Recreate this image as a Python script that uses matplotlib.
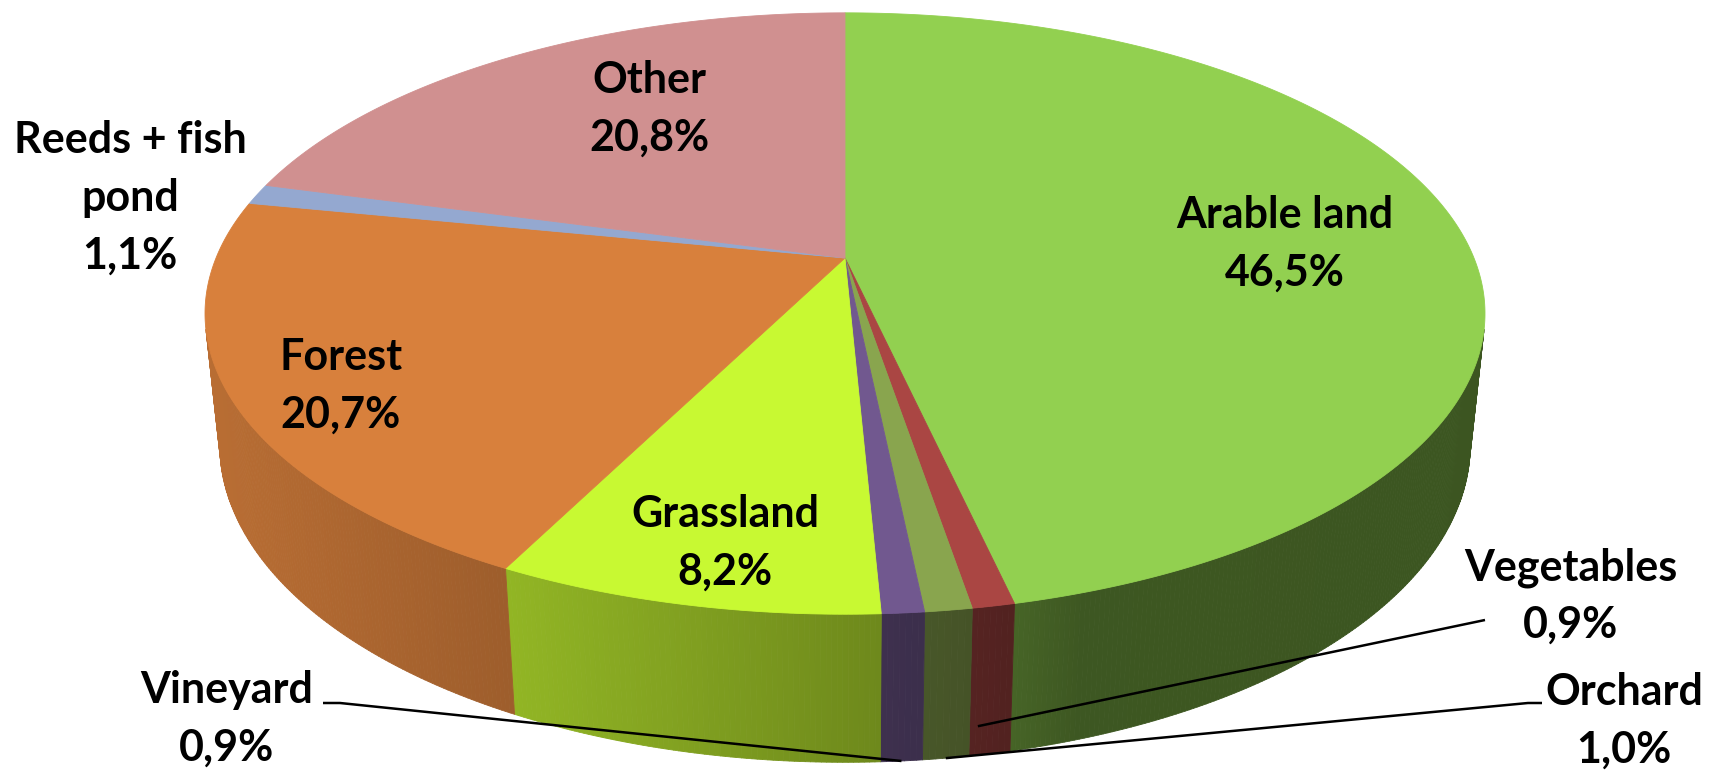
import numpy as np
import matplotlib
matplotlib.use("Agg")
import matplotlib.pyplot as plt
from matplotlib.patches import Polygon
from matplotlib.collections import PolyCollection

# data
labels = ["Arable land", "Vegetables", "Orchard", "Vineyard", "Grassland",
          "Forest", "Reeds + fish\npond", "Other"]
values = [46.5, 0.9, 1.0, 0.9, 8.2, 20.7, 1.1, 20.8]
colors = ["#92D050", "#AA4643", "#89A54E", "#71588F", "#C8F932",
          "#D8803C", "#94A8D0", "#D09090"]

# label placement (center x, first baseline y) in pixels
label_pos = [(1285, 228), (1571, 580), (1624, 705), (227, 703),
             (725, 527), (341, 370), (130, 153), (649, 93)]
# leader lines: slice index -> (start points, fraction along slice, depth fraction)
leaders = {1: ([(1485, 620)], 0.8, 0.8),
           2: ([(1542, 703), (1528, 703)], 0.5, 1.0),
           3: ([(323, 703), (340, 703)], 0.5, 1.0)}

# 3d perspective setup
CX, CY = 845, 258
F = 3021
PHI = np.radians(27.5)
S, C = np.sin(PHI), np.cos(PHI)
D = 4.803
H = 0.237


def proj_xyz(X, Y, z):
    yc = Y * S + z * C
    zc = D + Y * C - z * S
    return CX + F * X / zc, CY - F * yc / zc


def proj(theta, z):
    t = np.radians(theta)
    return proj_xyz(np.cos(t), np.sin(t), z)


def shade(x):
    return np.interp(x, [205, 510, 880, 1013, 1080, 1500],
                     [0.86, 0.73, 0.55, 0.48, 0.42, 0.41])


fig = plt.figure(figsize=(17.09, 7.70), dpi=100)
ax = fig.add_axes([0, 0, 1, 1])
ax.set_xlim(0, 1709)
ax.set_ylim(770, 0)
ax.axis("off")

total = sum(values)
cum = np.concatenate([[0], np.cumsum(values)]) / total
a_start = 90 - 360 * cum[:-1]
a_end = 90 - 360 * cum[1:]

vis_lo, vis_hi = -166.4, -13.6

# side walls
for i in range(len(values)):
    lo = max(a_end[i], vis_lo)
    hi = min(a_start[i], vis_hi)
    if lo >= hi:
        continue
    th = np.linspace(lo, hi, max(3, int((hi - lo) / 0.4)))
    base = np.array(matplotlib.colors.to_rgb(colors[i]))
    polys, cols = [], []
    for t0, t1 in zip(th[:-1], th[1:]):
        p = [proj(t0, 0), proj(t1, 0), proj(t1, -H), proj(t0, -H)]
        polys.append(p)
        xm = np.mean([q[0] for q in p])
        cols.append(np.clip(base * shade(xm), 0, 1))
    ax.add_collection(PolyCollection(polys, facecolors=cols, edgecolors=cols,
                                     linewidths=0.6, zorder=1))

# top faces
apex = proj_xyz(0.0, 0.0, 0.0)
for i in range(len(values)):
    th = np.linspace(a_start[i], a_end[i], max(3, int(abs(a_start[i] - a_end[i]) / 0.5)))
    pts = [apex] + [proj(t, 0) for t in th]
    ax.add_patch(Polygon(pts, closed=True, facecolor=colors[i], edgecolor=colors[i],
                         linewidth=0.6, zorder=2))

# leader lines
for i, (starts, frac, depth) in leaders.items():
    t = a_start[i] + frac * (a_end[i] - a_start[i])
    end = proj(t, -H * depth)
    xs = [p[0] for p in starts] + [end[0]]
    ys = [p[1] for p in starts] + [end[1]]
    ax.plot(xs, ys, color="black", linewidth=1.8, zorder=4, solid_capstyle="butt")

# labels
pitch = 58
for i, lab in enumerate(labels):
    pct = f"{values[i]:.1f}".replace(".", ",") + "%"
    lines = lab.split("\n") + [pct]
    x0, y0 = label_pos[i]
    for k, line in enumerate(lines):
        ax.text(x0, y0 + k * pitch, line, ha="center", va="baseline",
                fontsize=31, fontweight="bold", family=["Lato", "DejaVu Sans"],
                color="black", zorder=5)

fig.savefig("out.png", dpi=100, facecolor="white")
